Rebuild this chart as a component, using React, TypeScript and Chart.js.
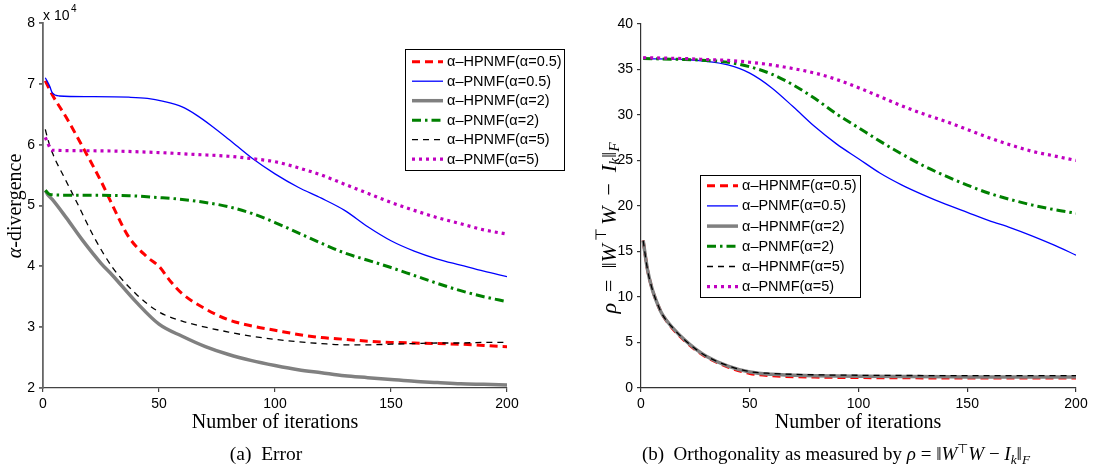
import React, { useEffect, useRef } from 'react';
import { Chart, registerables } from 'chart.js';
Chart.register(...registerables);

// ---------- (a) Error: alpha-divergence, values in units of 1e4 ----------
const errRedIter = [1, 4, 10, 18, 25, 30, 37, 45, 50, 55, 60, 70, 80, 90, 100, 110, 120, 130, 140, 150, 160, 170, 180, 190, 200];
const errRed = [7.05, 6.82, 6.45, 5.9, 5.4, 5.0, 4.48, 4.15, 4.0, 3.75, 3.55, 3.3, 3.12, 3.02, 2.95, 2.88, 2.83, 2.8, 2.77, 2.75, 2.74, 2.73, 2.72, 2.7, 2.68];

const errBlueIter = [1, 3, 4, 7, 20, 37, 45, 52, 60, 66, 73, 80, 90, 100, 110, 120, 130, 140, 150, 160, 170, 180, 190, 200];
const errBlue = [7.1, 6.95, 6.85, 6.8, 6.79, 6.78, 6.76, 6.71, 6.62, 6.49, 6.3, 6.09, 5.78, 5.52, 5.3, 5.12, 4.92, 4.65, 4.42, 4.25, 4.12, 4.02, 3.92, 3.83];

const errGrayIter = [1, 2, 4, 10, 17, 25, 30, 40, 50, 60, 70, 80, 90, 100, 110, 120, 130, 140, 150, 160, 170, 180, 190, 200];
const errGray = [5.25, 5.18, 5.1, 4.8, 4.43, 4.05, 3.85, 3.42, 3.05, 2.85, 2.68, 2.55, 2.45, 2.37, 2.3, 2.25, 2.2, 2.17, 2.14, 2.11, 2.09, 2.07, 2.06, 2.05];

const errGreenIter = [1, 3, 10, 37, 50, 60, 70, 80, 90, 100, 110, 120, 130, 140, 150, 160, 170, 180, 190, 200];
const errGreen = [5.25, 5.18, 5.17, 5.16, 5.13, 5.1, 5.05, 4.98, 4.87, 4.72, 4.55, 4.38, 4.22, 4.1, 3.98, 3.85, 3.72, 3.6, 3.5, 3.42];

const errBlackIter = [1, 2, 4, 10, 15, 22, 30, 40, 50, 60, 70, 80, 90, 100, 110, 120, 130, 140, 150, 160, 170, 180, 190, 200];
const errBlack = [6.25, 6.1, 5.87, 5.4, 5.02, 4.48, 3.98, 3.55, 3.25, 3.1, 3.0, 2.92, 2.85, 2.8, 2.76, 2.73, 2.71, 2.71, 2.72, 2.73, 2.74, 2.74, 2.75, 2.75];

const errMagIter = [1, 3, 4, 20, 50, 65, 80, 90, 100, 110, 120, 130, 140, 150, 160, 170, 180, 190, 200];
const errMag = [6.12, 5.95, 5.91, 5.9, 5.87, 5.84, 5.81, 5.77, 5.72, 5.62, 5.5, 5.35, 5.2, 5.05, 4.92, 4.8, 4.7, 4.6, 4.53];

const errYTicks = [2, 3, 4, 5, 6, 7, 8];

// ---------- (b) Orthogonality rho ----------
const orthLowIter = [1, 3, 5, 8, 10, 15, 20, 25, 30, 40, 50, 60, 80, 100, 150, 200];
const orthRed = [16.2, 13.0, 11.0, 9.0, 8.0, 6.4, 5.2, 4.2, 3.4, 2.3, 1.6, 1.35, 1.2, 1.15, 1.1, 1.1];
const orthGray = [16.2, 13.0, 11.0, 9.0, 8.0, 6.5, 5.3, 4.3, 3.5, 2.4, 1.75, 1.5, 1.35, 1.28, 1.22, 1.2];
const orthBlack = [16.2, 13.0, 11.0, 9.0, 8.0, 6.5, 5.3, 4.3, 3.5, 2.45, 1.8, 1.6, 1.45, 1.4, 1.36, 1.35];

const orthHighIter = [1, 20, 30, 40, 50, 60, 70, 80, 90, 100, 110, 120, 130, 140, 150, 160, 170, 180, 190, 200];
const orthBlue = [36.2, 36.1, 35.9, 35.5, 34.6, 33.0, 30.9, 28.7, 26.8, 25.2, 23.6, 22.3, 21.2, 20.2, 19.3, 18.4, 17.6, 16.7, 15.7, 14.6];
const orthGreen = [36.2, 36.1, 36.0, 35.8, 35.3, 34.5, 33.3, 31.8, 30.1, 28.6, 27.1, 25.7, 24.4, 23.3, 22.3, 21.4, 20.7, 20.1, 19.6, 19.2];
const orthMag = [36.3, 36.2, 36.1, 36.0, 35.8, 35.5, 35.1, 34.6, 33.9, 33.0, 32.0, 31.0, 30.1, 29.3, 28.4, 27.5, 26.7, 26.0, 25.5, 25.0];

const xTicks = [0, 50, 100, 150, 200];

const seriesNames = ['α–HPNMF(α=0.5)', 'α–PNMF(α=0.5)', 'α–HPNMF(α=2)', 'α–PNMF(α=2)', 'α–HPNMF(α=5)', 'α–PNMF(α=5)'];

const styles = [
  { color: '#ff0000', width: 3, dash: [8, 5] },
  { color: '#0000ff', width: 1.3, dash: [] as number[] },
  { color: '#808080', width: 3.5, dash: [] as number[] },
  { color: '#008000', width: 3, dash: [9, 4, 2.5, 4] },
  { color: '#000000', width: 1.3, dash: [6, 5] },
  { color: '#c000c0', width: 3.2, dash: [3, 4] },
];

const SANS = '"Liberation Sans", Arial, sans-serif';
const SERIF = '"Liberation Serif", "Times New Roman", serif';

type Seg = { t: string; it?: boolean; sup?: boolean; sub?: boolean };

function segFont(s: Seg, size: number) {
  const sz = s.sup || s.sub ? size * 0.7 : size;
  return `${s.it ? 'italic ' : ''}${sz}px ${SERIF}`;
}

function drawSegs(ctx: CanvasRenderingContext2D, segs: Seg[], size: number, x: number, y: number, align: 'center' | 'left') {
  let total = 0;
  const widths = segs.map((s) => {
    ctx.font = segFont(s, size);
    const w = ctx.measureText(s.t).width;
    total += w;
    return w;
  });
  let cx = align === 'center' ? x - total / 2 : x;
  ctx.textAlign = 'left';
  segs.forEach((s, i) => {
    ctx.font = segFont(s, size);
    const dy = s.sup ? -size * 0.38 : s.sub ? size * 0.22 : 0;
    ctx.fillText(s.t, cx, y + dy);
    cx += widths[i];
  });
}

const rhoSegs: Seg[] = [
  { t: 'ρ', it: true },
  { t: '\u2002=\u2002' },
  { t: '‖' },
  { t: 'W', it: true },
  { t: '\u2009⊤\u2009', sup: true },
  { t: 'W', it: true },
  { t: '\u2002−\u2002' },
  { t: 'I', it: true },
  { t: 'k', it: true, sub: true },
  { t: '‖' },
  { t: 'F', it: true, sub: true },
];

function mk(iter: number[], vals: number[]) {
  return iter.map((x, i) => ({ x, y: vals[i] }));
}

type LegendCfg = { x: number; y: number; w: number; h: number; row0: number; rowH: number; l0: number; l1: number; tx: number };

function drawLegend(ctx: CanvasRenderingContext2D, L: LegendCfg) {
  ctx.save();
  ctx.fillStyle = '#fff';
  ctx.fillRect(L.x, L.y, L.w, L.h);
  ctx.strokeStyle = '#000';
  ctx.lineWidth = 1;
  ctx.setLineDash([]);
  ctx.strokeRect(L.x + 0.5, L.y + 0.5, L.w, L.h);
  seriesNames.forEach((name, i) => {
    const yy = L.row0 + i * L.rowH;
    const st = styles[i];
    ctx.strokeStyle = st.color;
    ctx.lineWidth = st.width;
    ctx.setLineDash(st.dash);
    ctx.beginPath();
    ctx.moveTo(L.l0, yy);
    ctx.lineTo(L.l1, yy);
    ctx.stroke();
    ctx.setLineDash([]);
    ctx.fillStyle = '#000';
    ctx.font = `14.5px ${SANS}`;
    ctx.textAlign = 'left';
    ctx.textBaseline = 'middle';
    ctx.fillText(name, L.tx, yy + 0.5);
  });
  ctx.restore();
}

function makeDatasets(data: { x: number; y: number }[][]) {
  return data.map((d, i) => ({
    label: seriesNames[i],
    data: d,
    borderColor: styles[i].color,
    borderWidth: styles[i].width,
    borderDash: styles[i].dash,
    pointRadius: 0,
    fill: false,
    cubicInterpolationMode: 'monotone' as const,
    order: 6 - i,
  }));
}

function axisCommon(color: string, width: number) {
  return {
    grid: { display: true, drawOnChartArea: false, drawTicks: true, tickLength: 4, color, lineWidth: width },
    border: { display: true, color, width },
  };
}

export default function App() {
  const leftRef = useRef<HTMLCanvasElement>(null);
  const rightRef = useRef<HTMLCanvasElement>(null);

  useEffect(() => {
    const leftPlugin = {
      id: 'leftDeco',
      afterDraw(chart: any) {
        const ctx = chart.ctx as CanvasRenderingContext2D;
        ctx.save();
        ctx.fillStyle = '#000';
        ctx.textBaseline = 'alphabetic';
        ctx.textAlign = 'left';
        ctx.font = `14px ${SANS}`;
        ctx.fillText('x 10', 43, 20);
        ctx.font = `10px ${SANS}`;
        ctx.fillText('4', 71, 12);
        ctx.save();
        ctx.translate(16, 206);
        ctx.rotate(-Math.PI / 2);
        ctx.textBaseline = 'middle';
        drawSegs(ctx, [{ t: 'α', it: true }, { t: '-divergence' }], 20, 0, 0, 'center');
        ctx.restore();
        ctx.textBaseline = 'alphabetic';
        drawSegs(ctx, [{ t: 'Number of iterations' }], 20, 275, 428, 'center');
        drawSegs(ctx, [{ t: '(a)\u2002Error' }], 19.5, 266, 460, 'center');
        ctx.restore();
        drawLegend(ctx, { x: 405, y: 49, w: 159, h: 121, row0: 61.7, rowH: 19.5, l0: 412, l1: 443, tx: 447 });
      },
    };

    const rightPlugin = {
      id: 'rightDeco',
      afterDraw(chart: any) {
        const ctx = chart.ctx as CanvasRenderingContext2D;
        ctx.save();
        ctx.fillStyle = '#000';
        ctx.save();
        ctx.translate(61, 228);
        ctx.rotate(-Math.PI / 2);
        ctx.textBaseline = 'middle';
        drawSegs(ctx, rhoSegs, 22, 0, 0, 'center');
        ctx.restore();
        ctx.textBaseline = 'alphabetic';
        drawSegs(ctx, [{ t: 'Number of iterations' }], 20, 309, 428, 'center');
        drawSegs(ctx, [{ t: '(b)\u2002Orthogonality as measured by ' }, ...rhoSegs.map((s) => ({ ...s, t: s.t.replace(/\u2002/g, ' ').replace(/\u2009/g, '') }))], 19, 287, 460, 'center');
        ctx.restore();
        drawLegend(ctx, { x: 151, y: 175, w: 160, h: 122, row0: 185.7, rowH: 20.2, l0: 158, l1: 189, tx: 193 });
      },
    };

    const left = new Chart(leftRef.current!, {
      type: 'line',
      data: {
        datasets: makeDatasets([
          mk(errRedIter, errRed),
          mk(errBlueIter, errBlue),
          mk(errGrayIter, errGray),
          mk(errGreenIter, errGreen),
          mk(errBlackIter, errBlack),
          mk(errMagIter, errMag),
        ]) as any,
      },
      options: {
        animation: false,
        responsive: false,
        layout: { padding: { left: 0, right: 93, top: 23, bottom: 0 } },
        plugins: { legend: { display: false }, tooltip: { enabled: false } },
        scales: {
          x: {
            type: 'linear',
            min: 0,
            max: 200,
            afterBuildTicks: (s: any) => { s.ticks = xTicks.map((v) => ({ value: v })); },
            afterFit: (s: any) => { s.height = 85; },
            ticks: { color: '#000', font: { family: SANS, size: 14 }, padding: 4, maxRotation: 0 },
            ...axisCommon('#444', 1.2),
          },
          y: {
            type: 'linear',
            min: 2,
            max: 8,
            afterBuildTicks: (s: any) => { s.ticks = errYTicks.map((v) => ({ value: v })); },
            afterFit: (s: any) => { s.width = 43; },
            ticks: { color: '#000', font: { family: SANS, size: 14 }, padding: 4 },
            ...axisCommon('#666', 1.8),
          },
        },
      },
      plugins: [leftPlugin],
    } as any);

    const right = new Chart(rightRef.current!, {
      type: 'line',
      data: {
        datasets: makeDatasets([
          mk(orthLowIter, orthRed),
          mk(orthHighIter, orthBlue),
          mk(orthLowIter, orthGray),
          mk(orthHighIter, orthGreen),
          mk(orthLowIter, orthBlack),
          mk(orthHighIter, orthMag),
        ]) as any,
      },
      options: {
        animation: false,
        responsive: false,
        layout: { padding: { left: 0, right: 23, top: 24, bottom: 0 } },
        plugins: { legend: { display: false }, tooltip: { enabled: false } },
        scales: {
          x: {
            type: 'linear',
            min: 0,
            max: 200,
            afterBuildTicks: (s: any) => { s.ticks = xTicks.map((v) => ({ value: v })); },
            afterFit: (s: any) => { s.height = 85; },
            ticks: { color: '#000', font: { family: SANS, size: 14 }, padding: 4, maxRotation: 0 },
            ...axisCommon('#333', 1.2),
          },
          y: {
            type: 'linear',
            min: 0,
            max: 40,
            ticks: { stepSize: 5, color: '#000', font: { family: SANS, size: 14 }, padding: 4 },
            afterFit: (s: any) => { s.width = 92; },
            ...axisCommon('#333', 1.2),
          },
        },
      },
      plugins: [rightPlugin],
    } as any);

    return () => {
      left.destroy();
      right.destroy();
    };
  }, []);

  return (
    <div style={{ position: 'absolute', left: 0, top: 0, width: 1099, height: 473, background: '#fff' }}>
      <canvas ref={leftRef} width={600} height={473} style={{ position: 'absolute', left: 0, top: 0, width: 600, height: 473 }} />
      <canvas ref={rightRef} width={550} height={473} style={{ position: 'absolute', left: 549, top: 0, width: 550, height: 473 }} />
    </div>
  );
}
